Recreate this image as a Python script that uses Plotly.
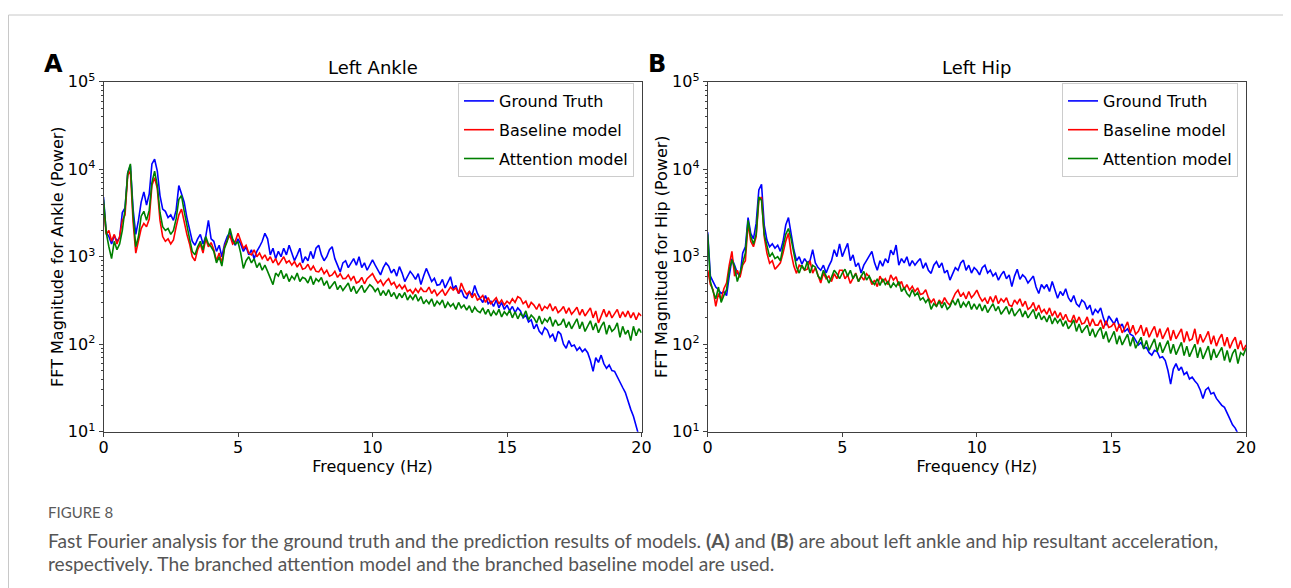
import plotly.graph_objects as go

# frequency grid of the spectra (Hz), 0.1 Hz bins
FREQ_HZ = [i / 10 for i in range(201)]

# --- (A) Left ankle ---
ANKLE_TRUTH = [
    4800, 1900, 1700, 1400, 1750, 1500, 1650, 3200, 3600, 9000,
    11000, 3500, 1800, 2600, 4200, 5500, 3900, 5200, 11500, 13000,
    9500, 5000, 3500, 3300, 2800, 3000, 2600, 3400, 6500, 5200,
    4200, 2800, 2100, 1500, 1350, 1600, 1800, 1400, 1700, 2600,
    1600, 1500, 1150, 1350, 1000, 1400, 1700, 1900, 1500, 1350,
    1600, 1400, 1150, 1300, 1050, 1200, 950, 1150, 1300, 1500,
    1850, 1600, 1050, 1250, 950, 1150, 1000, 1250, 1050, 1350,
    1100, 900, 1050, 1250, 850, 1000, 900, 1150, 950, 1250,
    1350, 1050, 900, 1000, 1200, 1300, 950, 800, 670, 850,
    900, 750, 850, 950, 800, 1000, 750, 850, 700, 800,
    920, 800, 700, 620, 750, 850, 780, 650, 720, 600,
    770, 650, 520, 600, 680, 620, 550, 640, 480, 600,
    735, 620, 520, 565, 470, 480, 550, 440, 500, 590,
    430, 470, 380, 420, 350, 335, 400, 360, 470, 380,
    335, 300, 360, 290, 310, 270, 320, 260, 300, 250,
    280, 240, 270, 230, 260, 240, 200, 215, 180, 190,
    150, 170, 140, 130, 155, 145, 120, 130, 107, 140,
    130, 100, 90, 110, 95, 98, 85, 92, 82, 88,
    80, 65, 49, 70, 62, 75, 60, 53, 58, 50,
    49, 42, 37, 32, 28, 22, 18, 15, 12, 9,
    7,
]
ANKLE_BASELINE = [
    4000, 1800, 2000, 1500, 1800, 1400, 1700, 2600, 3000, 8500,
    9500, 2500, 1100, 1600, 2100, 2400, 2200, 2700, 6500, 8000,
    6000, 2600, 1700, 1500, 1600, 1400, 1550, 2200, 3000, 3500,
    2400, 1800, 1400, 1000, 900, 1200, 1400, 1100, 1600, 1300,
    1450, 1200, 900, 1100, 850, 1300, 1550, 1750, 1400, 1500,
    1850, 1500, 1250, 1350, 1100, 1050, 1200, 1000, 1100, 950,
    1050, 900, 1000, 850, 950, 800, 900, 1000, 850, 900,
    800, 880, 760, 850, 720, 740, 820, 700, 780, 680,
    670, 740, 640, 700, 600, 620, 680, 580, 640, 560,
    565, 620, 540, 600, 500, 520, 580, 490, 560, 600,
    640, 560, 500, 540, 470, 520, 560, 480, 510, 440,
    480, 430, 470, 400, 420, 380, 430, 390, 440, 400,
    400, 450, 380, 420, 360, 390, 420, 360, 400, 450,
    415, 440, 380, 500, 420, 370, 400, 340, 380, 320,
    335, 360, 300, 340, 290, 310, 340, 290, 320, 280,
    310, 290, 330, 300, 350, 335, 290, 310, 260, 300,
    280, 250, 290, 240, 270, 255, 290, 240, 270, 230,
    245, 270, 225, 260, 220, 240, 265, 215, 250, 210,
    230, 260, 200, 240, 175, 215, 250, 205, 240, 200,
    225, 250, 200, 235, 205, 240, 200, 230, 190, 225,
    210,
]
ANKLE_ATTENTION = [
    4500, 1900, 1300, 950, 1500, 1200, 1400, 2000, 3500, 9000,
    11500, 3000, 1300, 1700, 2900, 3300, 2600, 3400, 7000, 9500,
    6500, 3200, 2200, 2000, 2100, 1800, 2000, 2700, 4500, 5000,
    3300, 2200, 1600, 1150, 1050, 1300, 1500, 1200, 1700, 1400,
    1300, 1150, 850, 1000, 780, 1250, 1500, 2100, 1600, 1400,
    1480, 1100, 735, 900, 1000, 850, 950, 750, 850, 700,
    800, 680, 580, 480, 650, 600, 700, 560, 640, 520,
    600, 550, 650, 520, 580, 560, 500, 600, 480, 560,
    520, 580, 470, 530, 430, 480, 520, 420, 470, 410,
    450, 500, 400, 460, 380, 420, 470, 390, 430, 480,
    450, 400, 440, 360, 410, 360, 420, 350, 390, 330,
    380, 340, 390, 320, 360, 325, 370, 310, 350, 290,
    320, 290, 330, 270, 310, 285, 320, 260, 300, 270,
    290, 250, 300, 260, 280, 245, 275, 230, 265, 240,
    230, 260, 220, 250, 210, 240, 215, 250, 205, 235,
    215, 245, 200, 235, 195, 225, 205, 240, 190, 215,
    200, 175, 210, 170, 195, 180, 205, 160, 190, 165,
    170, 195, 155, 180, 150, 175, 195, 150, 180, 140,
    165, 185, 145, 175, 135, 160, 180, 130, 165, 140,
    150, 175, 120, 160, 130, 145, 110, 160, 125, 150,
    135,
]

# --- (B) Left hip ---
HIP_TRUTH = [
    1900, 600, 520, 450, 420, 380, 400, 360, 600, 950,
    800, 650, 600, 1100, 1300, 2800, 1850, 1600, 2400, 5800,
    6700, 2300, 1550, 1300, 1400, 1250, 1350, 1150, 1500, 2300,
    2800, 1800, 1200, 900, 1000, 820, 950, 850, 900, 1200,
    850, 750, 700, 800, 650, 780, 900, 1200, 1000, 1400,
    1000, 1200, 1420, 900, 1050, 770, 850, 650, 800, 900,
    1000, 1150, 850, 700, 900, 780, 950, 850, 1190, 1050,
    1360, 800, 950, 850, 1000, 780, 900, 800, 880, 950,
    735, 850, 700, 645, 800, 880, 750, 850, 650, 700,
    540, 650, 750, 700, 850, 915, 700, 800, 650, 750,
    700, 620, 750, 800, 650, 700, 600, 650, 540, 620,
    680, 560, 620, 455, 600, 720, 550, 620, 580, 500,
    540, 600, 450, 380, 480, 435, 480, 400, 520, 420,
    335, 400, 360, 430, 340, 305, 360, 290, 270, 320,
    300, 250, 280, 215, 250, 230, 260, 200, 165, 210,
    190, 170, 200, 155, 170, 140, 150, 130, 125, 110,
    98, 105, 90, 92, 80, 75, 85, 82, 70, 72,
    65, 50, 35, 52, 60, 50, 55, 45, 48, 40,
    42, 38, 35, 30, 24, 30, 32, 27, 28, 24,
    22, 20, 19, 16, 14, 12, 11, 9.5, 8, 7,
    6,
]
HIP_BASELINE = [
    700, 480, 420, 270, 380, 320, 430, 500, 800, 1150,
    600, 700, 580, 800, 900, 2400, 1500, 1300, 1700, 4400,
    4800, 1700, 1100, 840, 900, 720, 780, 850, 1100, 1500,
    1850, 1100, 780, 645, 800, 770, 700, 720, 900, 650,
    750, 600, 500, 650, 560, 600, 520, 640, 560, 700,
    700, 560, 620, 495, 580, 650, 520, 600, 540, 640,
    590, 480, 540, 455, 600, 520, 560, 480, 620, 540,
    590, 470, 520, 420, 480, 415, 460, 400, 440, 370,
    380, 420, 340, 300, 330, 270, 320, 290, 340, 300,
    280, 330, 380, 415, 350, 385, 330, 400, 340, 370,
    415, 350, 310, 335, 290, 350, 300, 360, 290, 330,
    305, 340, 280, 270, 320, 290, 330, 270, 310, 250,
    265, 300, 240, 280, 230, 250, 220, 260, 210, 240,
    200, 230, 190, 220, 185, 180, 215, 175, 205, 170,
    175, 205, 160, 195, 165, 165, 190, 150, 185, 155,
    160, 175, 140, 170, 135, 155, 180, 135, 165, 130,
    140, 165, 125, 155, 120, 140, 160, 120, 150, 115,
    135, 155, 110, 145, 115, 130, 150, 105, 140, 110,
    115, 150, 100, 130, 105, 120, 140, 100, 125, 95,
    115, 130, 95, 120, 90, 107, 120, 88, 110, 85,
    98,
]
HIP_ATTENTION = [
    1800, 520, 400, 330, 450, 300, 360, 420, 700, 920,
    760, 520, 650, 850, 1100, 2600, 1700, 1400, 1800, 4800,
    4400, 1800, 1300, 1000, 1100, 950, 1000, 900, 1300, 1800,
    2100, 1600, 1100, 760, 650, 800, 700, 880, 650, 800,
    760, 600, 550, 700, 600, 500, 580, 700, 640, 560,
    650, 720, 600, 700, 560, 640, 520, 600, 680, 540,
    600, 520, 480, 560, 470, 560, 480, 520, 440, 500,
    455, 520, 400, 440, 380, 350, 420, 360, 390, 320,
    340, 300, 330, 250, 290, 270, 310, 260, 300, 250,
    270, 320, 280, 330, 260, 300, 270, 310, 250, 290,
    250, 290, 240, 280, 230, 260, 290, 240, 270, 220,
    240, 270, 220, 260, 210, 230, 255, 205, 240, 200,
    225, 250, 195, 230, 190, 210, 180, 215, 170, 200,
    175, 195, 160, 185, 150, 165, 190, 140, 170, 135,
    150, 165, 125, 150, 120, 140, 155, 115, 140, 105,
    120, 140, 100, 125, 98, 115, 130, 95, 120, 90,
    105, 120, 88, 110, 85, 100, 115, 82, 105, 80,
    92, 110, 78, 100, 76, 90, 105, 74, 95, 72,
    85, 100, 70, 92, 68, 82, 95, 66, 88, 70,
    80, 92, 65, 85, 62, 78, 88, 60, 80, 75,
    90,
]

SERIES_NAMES = ["Ground Truth", "Baseline model", "Attention model"]
SERIES_COLORS = ["#0000ff", "#ff0000", "#008000"]
Y_TICKS = [10, 100, 1000, 10000, 100000]
Y_TICKTEXT = ["10<sup>1</sup>", "10<sup>2</sup>", "10<sup>3</sup>", "10<sup>4</sup>", "10<sup>5</sup>"]
Y_MINOR = [m * d for d in (10, 100, 1000, 10000) for m in range(2, 10)]
X_TICKS = [0, 5, 10, 15, 20]

# the page body has an 8px margin, so the figure is drawn 8px in from the corner
OFFSET = 8
W, H = 1291 - OFFSET, 588 - OFFSET
FONT = "DejaVu Sans"

fig = go.Figure()

panels = [
    ("x", "y", "legend", [ANKLE_TRUTH, ANKLE_BASELINE, ANKLE_ATTENTION]),
    ("x2", "y2", "legend2", [HIP_TRUTH, HIP_BASELINE, HIP_ATTENTION]),
]
for xa, ya, leg, series in panels:
    for name, color, vals in zip(SERIES_NAMES, SERIES_COLORS, series):
        fig.add_trace(go.Scatter(
            x=FREQ_HZ, y=vals, name=name, mode="lines",
            line=dict(color=color, width=1.6),
            xaxis=xa, yaxis=ya, legend=leg, legendgroup=leg + name,
        ))


# screen pixel -> paper fraction
def px_x(v):
    return (v - OFFSET) / W


def px_y(v):
    return 1 - (v - OFFSET) / H


axis_common = dict(
    automargin=False,
    showline=True, mirror=True, linecolor="#404040", linewidth=1,
    showgrid=False, zeroline=False, ticks="outside", ticklen=4,
    tickcolor="#404040", tickfont=dict(family=FONT, size=16, color="black"),
)
x_common = dict(axis_common, range=[0, 20], tickvals=X_TICKS, ticklabelstandoff=-3,
                title=dict(text="Frequency (Hz)", font=dict(family=FONT, size=16, color="black"), standoff=0))
y_common = dict(axis_common, type="log", range=[1, 5], tickvals=Y_TICKS, ticktext=Y_TICKTEXT,
                domain=[px_y(431.7), px_y(81.7)],
                minor=dict(tickmode="array", tickvals=Y_MINOR, ticks="outside", ticklen=2,
                           tickcolor="#404040", showgrid=False))

legend_common = dict(
    xanchor="right", yanchor="top", y=px_y(83),
    bgcolor="rgba(255,255,255,0.85)", bordercolor="#cccccc", borderwidth=1,
    font=dict(family=FONT, size=16, color="black"),
    traceorder="grouped", tracegroupgap=5,
)

fig.update_layout(
    width=W, height=H,
    margin=dict(l=0, r=0, t=0, b=0, autoexpand=False),
    paper_bgcolor="white", plot_bgcolor="white",
    xaxis=dict(x_common, domain=[px_x(103.5), px_x(641.5)], anchor="y"),
    yaxis=dict(y_common, anchor="x",
               title=dict(text="FFT Magnitude for Ankle (Power)", font=dict(family=FONT, size=16, color="black"), standoff=0)),
    xaxis2=dict(x_common, domain=[px_x(707.7), px_x(1246)], anchor="y2"),
    yaxis2=dict(y_common, anchor="x2",
                title=dict(text="FFT Magnitude for Hip (Power)", font=dict(family=FONT, size=16, color="black"), standoff=0)),
    legend=dict(legend_common, x=px_x(634)),
    legend2=dict(legend_common, x=px_x(1238)),
    showlegend=True,
)

# card border
fig.add_shape(type="rect", xref="paper", yref="paper",
              x0=px_x(8.5), x1=px_x(1310), y0=px_y(620), y1=px_y(15),
              line=dict(color="#c8c8c8", width=1), fillcolor="rgba(0,0,0,0)", layer="below")

notes = [
    dict(text="Left Ankle", x=px_x(372.5), y=px_y(68), font=dict(family=FONT, size=18, color="black"), xanchor="center"),
    dict(text="Left Hip", x=px_x(977), y=px_y(68), font=dict(family=FONT, size=18, color="black"), xanchor="center"),
    dict(text="<b>A</b>", x=px_x(42), y=px_y(64), font=dict(family=FONT, size=24, color="black"), xanchor="left"),
    dict(text="<b>B</b>", x=px_x(646), y=px_y(64), font=dict(family=FONT, size=24, color="black"), xanchor="left"),
    dict(text="FIGURE 8", x=px_x(46), y=px_y(512), font=dict(family="Lato", size=15, color="#5a5a5a"), xanchor="left"),
    dict(text="Fast Fourier analysis for the ground truth and the prediction results of models. <b>(A)</b> and <b>(B)</b> "
              "are about left ankle and hip resultant acceleration,",
         x=px_x(46), y=px_y(540), font=dict(family="Lato", size=19.2, color="#555555"), xanchor="left"),
    dict(text="respectively. The branched attention model and the branched baseline model are used.",
         x=px_x(46), y=px_y(563), font=dict(family="Lato", size=19.2, color="#555555"), xanchor="left"),
]
for n in notes:
    fig.add_annotation(xref="paper", yref="paper", showarrow=False, yanchor="middle", **n)

fig.write_html("out.html")
